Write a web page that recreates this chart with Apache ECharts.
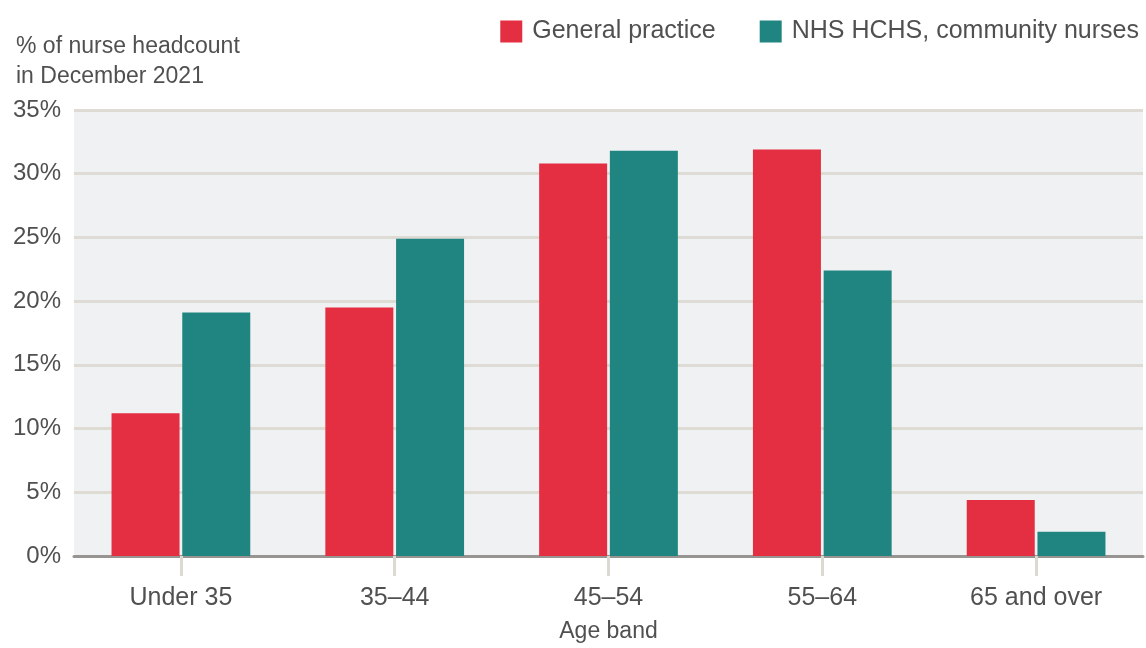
<!DOCTYPE html>
<html>
<head>
<meta charset="utf-8">
<script src="https://cdn.jsdelivr.net/npm/echarts@6/dist/echarts.min.js"></script>
<style>
  html, body { margin: 0; padding: 0; background: #fff; }
  #chart { width: 1146px; height: 648px; }
</style>
</head>
<body>
<div id="chart"></div>
<script>
const categories = ["Under 35", "35–44", "45–54", "55–64", "65 and over"];
const generalPractice = [11.2, 19.5, 30.8, 31.9, 4.4];
const communityNurses = [19.1, 24.9, 31.8, 22.4, 1.9];
const yTicks = [0, 5, 10, 15, 20, 25, 30, 35];

const textColor = "#505050";
const font = "Liberation Sans, Arial, sans-serif";

const myChart = echarts.init(document.getElementById("chart"));

const option = {
  animation: false,
  textStyle: { fontFamily: font, color: textColor },
  title: {
    text: "% of nurse headcount\nin December 2021",
    left: 11,
    top: 27,
    textStyle: { fontSize: 23, fontWeight: "normal", color: textColor, lineHeight: 30, fontFamily: font }
  },
  legend: {
    right: 2,
    top: 14,
    itemWidth: 22,
    itemHeight: 22,
    itemGap: 44,
    icon: "rect",
    textStyle: { fontSize: 25, color: textColor, fontFamily: font, padding: [0, 0, 0, 5] },
    data: ["General practice", "NHS HCHS, community nurses"]
  },
  grid: {
    left: 74,
    right: 3,
    top: 110,
    bottom: 86,
    show: true,
    backgroundColor: "#f0f1f3",
    borderWidth: 0
  },
  xAxis: {
    type: "category",
    data: categories,
    name: "Age band",
    nameLocation: "middle",
    nameGap: 64,
    nameTextStyle: { fontSize: 23, color: textColor, fontFamily: font },
    axisLine: { lineStyle: { color: "#979492", width: 3 } },
    axisTick: { show: true, alignWithLabel: true, length: 20, lineStyle: { color: "#dcd9d0", width: 3 } },
    axisLabel: { fontSize: 25, color: textColor, margin: 30, fontFamily: font }
  },
  yAxis: {
    type: "value",
    min: yTicks[0],
    max: yTicks[yTicks.length - 1],
    interval: 5,
    axisLine: { show: false },
    axisTick: { show: false },
    axisLabel: { fontSize: 24, color: textColor, margin: 13, formatter: "{value}%", fontFamily: font },
    splitLine: { lineStyle: { color: "#dddbd3", width: 3 } }
  },
  series: [
    {
      name: "General practice",
      type: "bar",
      data: generalPractice,
      barWidth: 68,
      barGap: "4%",
      itemStyle: { color: "#e32f41" }
    },
    {
      name: "NHS HCHS, community nurses",
      type: "bar",
      data: communityNurses,
      barWidth: 68,
      itemStyle: { color: "#208580" }
    }
  ]
};

myChart.setOption(option);
</script>
</body>
</html>
